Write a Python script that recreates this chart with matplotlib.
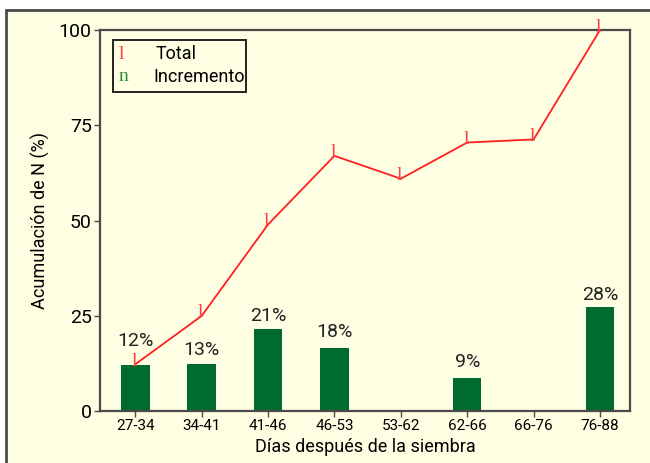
import matplotlib.pyplot as plt
from matplotlib.patches import Rectangle
import numpy as np

# periods (days after sowing)
periods = ['27-34', '34-41', '41-46', '46-53', '53-62', '62-66', '66-76', '76-88']
# cumulative N uptake (%)
total = [12.3, 25.0, 49.0, 67.0, 61.0, 70.5, 71.3, 100.0]
# increment per period (%) - bar heights as drawn
increment = [12.0, 12.5, 21.5, 16.5, 0.0, 8.7, 0.0, 27.4]
increment_labels = ['12%', '13%', '21%', '18%', '', '9%', '', '28%']
yticks = [0, 25, 50, 75, 100]

cream = '#FEFEE3'
green = '#006B2E'
red = '#FF2020'
frame = '#4A4A4A'

plt.rcParams['font.family'] = ['Roboto', 'DejaVu Sans']

fig = plt.figure(figsize=(6.5, 4.63), dpi=100, facecolor='white')
# outer panel frame
fig.patches.append(Rectangle((6 / 650, -0.1), 1.2, 1.1 - 10 / 463,
                             transform=fig.transFigure, facecolor=cream,
                             edgecolor=frame, linewidth=2, zorder=-10))

ax = fig.add_axes([0.154, 0.112, 0.815, 0.823])
ax.set_facecolor(cream)

x = np.arange(len(periods))
ax.bar(x, increment, width=0.43, color=green, zorder=2)

# percentage labels above bars (first one lifted to clear the line marker)
label_pad = [4.0, 1.2, 1.2, 1.8, 0, 1.8, 0, 0.8]
for xi, h, lab, pad in zip(x, increment, increment_labels, label_pad):
    if lab:
        ax.text(xi, h + pad, lab, ha='center', va='bottom', fontsize=14,
                color='#222222')

ax.plot(x, total, color=red, linewidth=1.3, zorder=3, clip_on=False)
for xi, yi in zip(x, total):
    ax.text(xi - 0.02, yi + 0.8, 'l', ha='center', va='center', color='#FF4040',
            fontsize=14, family='Liberation Serif', zorder=4, clip_on=False)

ax.set_xlim(-0.53, 7.45)
ax.set_ylim(0, 100)
ax.set_xticks(x)
ax.set_xticklabels(periods, fontsize=11)
ax.set_yticks(yticks)
ax.set_yticklabels([str(v) for v in yticks], fontsize=14)
ax.tick_params(direction='out', length=4, width=1, color=frame, pad=2)
ax.set_xlabel('Días después de la siembra', fontsize=13, labelpad=3)
ax.set_ylabel('Acumulación de N (%)', fontsize=13, labelpad=6)
for s in ax.spines.values():
    s.set_color(frame)
    s.set_linewidth(1.6)

# legend box drawn by hand to keep the glyph markers
ax.add_patch(Rectangle((0.0245, 0.837), 0.25, 0.137, transform=ax.transAxes,
                       facecolor='none', edgecolor='#222222', linewidth=1.4,
                       zorder=5, clip_on=False))
ax.text(0.04, 0.937, 'l', transform=ax.transAxes, color='#FF4040', fontsize=14,
        family='Liberation Serif', ha='center', va='center', zorder=6)
ax.text(0.104, 0.937, 'Total', transform=ax.transAxes, fontsize=13,
        ha='left', va='center', zorder=6)
ax.text(0.044, 0.877, 'n', transform=ax.transAxes, color='#2E8B3E', fontsize=14,
        family='Liberation Serif', ha='center', va='center', zorder=6)
ax.text(0.100, 0.877, 'Incremento', transform=ax.transAxes, fontsize=13,
        ha='left', va='center', zorder=6)

fig.savefig('out.png', dpi=100, facecolor='white')
